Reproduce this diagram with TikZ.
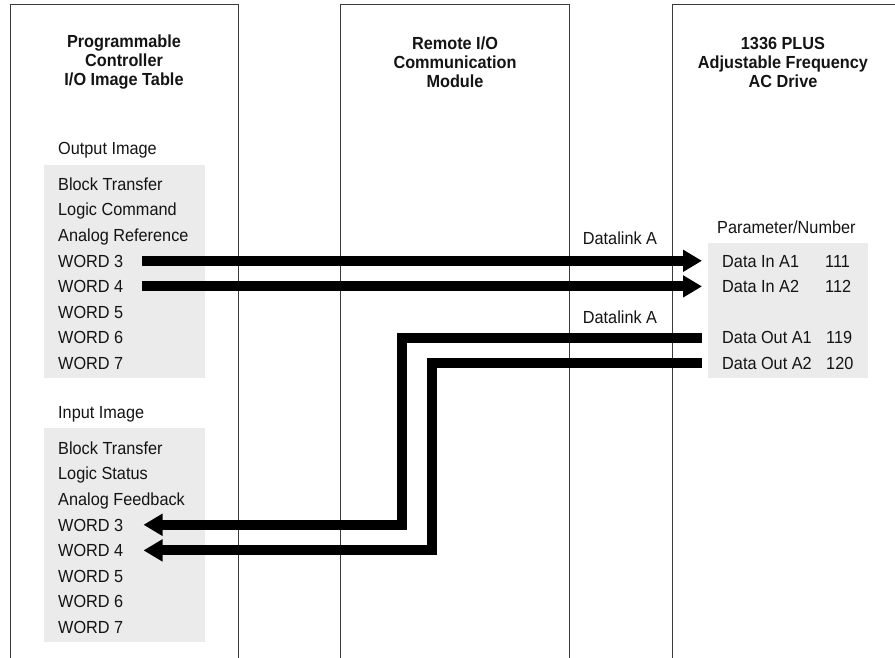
\documentclass[tikz,border=0pt]{standalone}
\usepackage{fontspec}
\setmainfont[FakeStretch=0.93]{Liberation Sans}
\usepackage{tikz}
\usetikzlibrary{arrows.meta,positioning,calc}
\definecolor{Ink}{HTML}{141414}
\definecolor{Rule}{HTML}{3A3A3A}
\definecolor{Shade}{HTML}{EBEBEB}
\tikzset{
  heading/.style={
    align=center,inner sep=0pt,text=Ink,
    font=\fontsize{17.5}{19}\selectfont\bfseries
  },
  item/.style={
    anchor=west,inner sep=0pt,text=Ink,
    text height=12.5pt,text depth=0pt,
    font=\fontsize{17.5}{19}\selectfont
  },
  under/.style={below=25.6pt of #1.west,item},
  shade/.style={fill=Shade,draw=none},
  colline/.style={draw=Rule,line width=0.9pt},
  bigarrow/.style={
    draw=black,line width=10pt,line join=miter,
    -{Triangle[length=19pt,width=21pt]}
  }
}

\begin{document}
\begin{tikzpicture}[x=1pt,y=-1pt]
  \useasboundingbox (0,0) rectangle (895,657);
  % columns, open at the bottom
  \draw[colline] (10,660) -- (10,4) -- (238,4) -- (238,660);
  \draw[colline] (340,660) -- (340,4) -- (569,4) -- (569,660);
  \draw[colline] (672,660) -- (672,4) -- (900,4);
  \node[heading] (plc) at (124,62) {Programmable\\Controller\\I/O Image Table};
  \node[heading] (rio) at (455,62) {Remote I/O\\Communication\\Module};
  \node[heading] (drive) at (783,62) {1336 PLUS\\Adjustable Frequency\\AC Drive};

  % image table
  \fill[shade] (44,165) rectangle (205,378);
  \fill[shade] (44,428) rectangle (205,642);
  \node[item] (outimg) at (58,148) {Output Image};
  \node[item] (ow1) at (58,184) {Block Transfer};
  \node[under=ow1] (ow2) {Logic Command};
  \node[under=ow2] (ow3) {Analog Reference};
  \node[under=ow3] (ow4) {WORD 3};
  \node[under=ow4] (ow5) {WORD 4};
  \node[under=ow5] (ow6) {WORD 5};
  \node[under=ow6] (ow7) {WORD 6};
  \node[under=ow7] (ow8) {WORD 7};
  \node[item] (inimg) at (58,412) {Input Image};
  \node[item] (iw1) at (58,448) {Block Transfer};
  \node[under=iw1] (iw2) {Logic Status};
  \node[under=iw2] (iw3) {Analog Feedback};
  \node[under=iw3] (iw4) {WORD 3};
  \node[under=iw4] (iw5) {WORD 4};
  \node[under=iw5] (iw6) {WORD 5};
  \node[under=iw6] (iw7) {WORD 6};
  \node[under=iw7] (iw8) {WORD 7};

  % drive parameters
  \fill[shade] (708,243) rectangle (868,378);
  \node[item] (parnum) at (717,227) {Parameter/Number};
  \node[item] (din1) at (722,0 |- ow4.west) {Data In A1};
  \node[item] (din2) at (722,0 |- ow5.west) {Data In A2};
  \node[item] (dout1) at (722,0 |- ow7.west) {Data Out A1};
  \node[item] (dout2) at (722,0 |- ow8.west) {Data Out A2};
  \node[item] (p111) at (825,0 |- din1.west) {111};
  \node[item] (p112) at (825,0 |- din2.west) {112};
  \node[item] (p119) at (826,0 |- dout1.west) {119};
  \node[item] (p120) at (826,0 |- dout2.west) {120};
  \node[item,anchor=center] (dlin) at (620,238) {Datalink A};
  \node[item,anchor=center] (dlout) at (620,317) {Datalink A};

  % datalink transfers
  \coordinate (bendA) at (402,0);
  \coordinate (bendB) at (432,0);
  \draw[bigarrow,shorten <=18pt,shorten >=20pt] (ow4.east) -- (din1.west);
  \draw[bigarrow,shorten <=18pt,shorten >=20pt] (ow5.east) -- (din2.west);
  \draw[bigarrow,shorten >=20pt] ([xshift=-20pt]dout1.west) -- (bendA |- dout1.west)
    -- (bendA |- iw4.east) -- (iw4.east);
  \draw[bigarrow,shorten >=20pt] ([xshift=-20pt]dout2.west) -- (bendB |- dout2.west)
    -- (bendB |- iw5.east) -- (iw5.east);
\end{tikzpicture}
\end{document}
